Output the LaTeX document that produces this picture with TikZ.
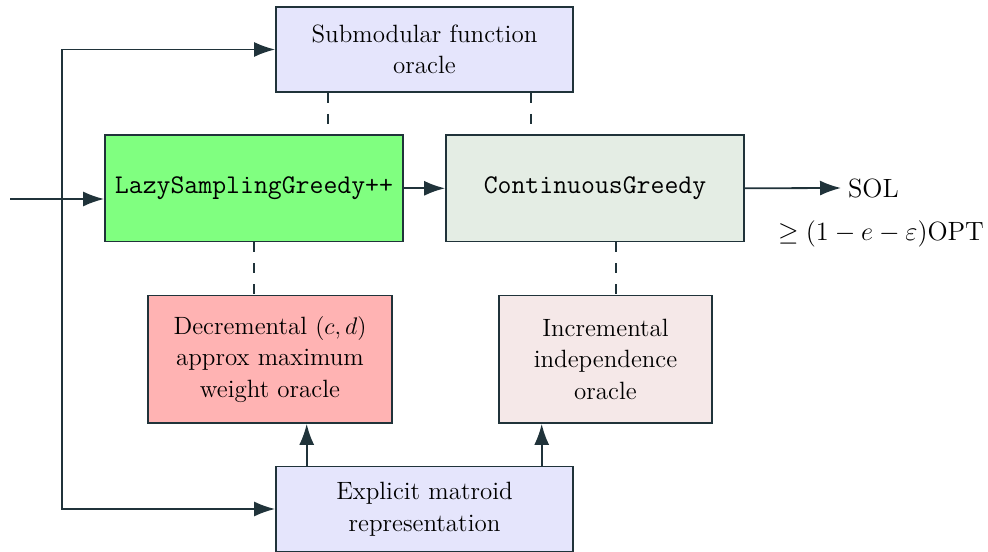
\documentclass[tikz,border=0pt]{standalone}
\usepackage{amsmath,amssymb}
\usepackage{graphicx}
\usepackage{xcolor}
\usepackage{tikz}
\usetikzlibrary{arrows.meta,positioning,calc}
\definecolor{lineSlate}{HTML}{20333A}
\definecolor{oracleBlue}{HTML}{E5E5FC}
\definecolor{lazyGreen}{HTML}{80FF80}
\definecolor{contGreen}{HTML}{E4EDE4}
\definecolor{decRed}{HTML}{FFB3B3}
\definecolor{incRose}{HTML}{F5E8E8}

\begin{document}
\begin{tikzpicture}[x=0.5pt, y=0.5pt, font=\fontsize{12.5}{15.8}\selectfont,
  box/.style={draw=lineSlate, line width=0.9pt, align=center, inner sep=2pt},
  algo/.style={box, font=\fontsize{13.5}{16}\selectfont\ttfamily, minimum width=149pt, minimum height=53.3pt},
  result/.style={font=\fontsize{12}{16}\selectfont},
  link/.style={lineSlate, line width=1pt, dash pattern=on 5pt off 5.5pt},
  feed/.style={lineSlate, line width=0.9pt, -{Latex[length=10.5pt,width=7.5pt]}}]
  \useasboundingbox (0,0) rectangle (988,551);
  % oracles top and bottom
  \node[box, fill=oracleBlue, minimum width=148.5pt, minimum height=42.5pt] (fnOracle) at (424.5,501.5) {Submodular function\\oracle};
  \node[box, fill=oracleBlue, minimum width=148.5pt, minimum height=42.5pt] (explicit) at (424.5,42) {Explicit matroid\\representation};
  % middle row: the two algorithms
  \node[algo, fill=lazyGreen] (lazy) at (254,362.7) {LazySamplingGreedy++};
  \node[algo, fill=contGreen] (cont) at (595,362.7) {ContinuousGreedy};
  % independence oracles
  \node[box, fill=decRed, minimum width=122pt, minimum height=63.7pt] (decOracle) at (270,191.7) {Decremental $(c,d)$\\approx maximum\\weight oracle};
  \node[box, fill=incRose, minimum width=106.5pt, minimum height=63.7pt] (incOracle) at (605.5,191.7) {Incremental\\independence\\oracle};
  % output
  \node[result, anchor=west] (sol) at (841,363) {\scalebox{1.1}{SOL}};
  \node[result] (bound) at (881,317) {\scalebox{1.1}{$\geq (1-e-\varepsilon)\mathrm{OPT}$}};
  \coordinate (inPt) at (10,352);
  \coordinate (bus) at (61.7,270);

  % input and bus on the left
  \draw[feed] (inPt) -- (inPt -| lazy.west);
  \draw[feed] (bus |- fnOracle.west) -- (fnOracle.west);
  \draw[feed] (bus |- fnOracle.west) -- (bus |- explicit.west) -- (explicit.west);
  \draw[feed] (lazy.east) -- (cont.west);
  \draw[feed] (cont.east) -- (sol.west);
  \draw[feed] ([xshift=-58.9pt]explicit.north) -- ([xshift=-58.9pt]explicit.north |- decOracle.south);
  \draw[feed] ([xshift=58.6pt]explicit.north) -- ([xshift=58.6pt]explicit.north |- incOracle.south);
  % dashed oracle access
  \draw[link] ([xshift=-48.25pt]fnOracle.south) -- ([xshift=-48.25pt]fnOracle.south |- lazy.north);
  \draw[link] ([xshift=53.25pt]fnOracle.south) -- ([xshift=53.25pt]fnOracle.south |- cont.north);
  \draw[link] (lazy.south) -- (lazy.south |- decOracle.north);
  \draw[link] ([xshift=10.5pt]cont.south) -- ([xshift=10.5pt]cont.south |- incOracle.north);
\end{tikzpicture}
\end{document}
